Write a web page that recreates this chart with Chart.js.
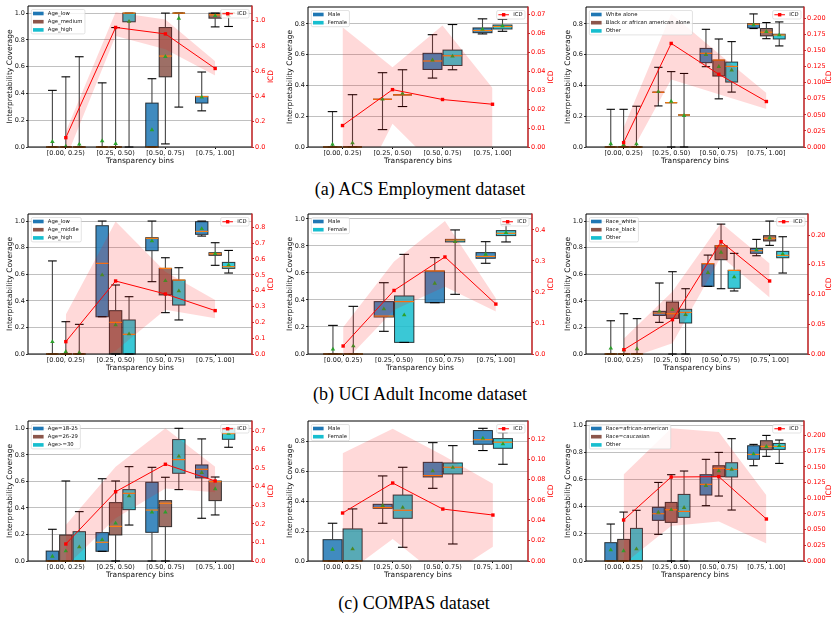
<!DOCTYPE html>
<html>
<head>
<meta charset="utf-8">
<script src="https://cdn.jsdelivr.net/npm/chart.js@4.4.0/dist/chart.umd.min.js"></script>
<style>
  body { margin:0; background:#fff; width:838px; height:617px; position:relative; overflow:hidden; }
  canvas { position:absolute; }
  .cap { position:absolute; font-family:"Liberation Serif","Times New Roman",serif; font-size:18px; color:#000; white-space:nowrap; transform:translate(-50%,-50%); }
</style>
</head>
<body>
<div class="cap" style="left:420px;top:189px">(a) ACS Employment dataset</div>
<div class="cap" style="left:420px;top:394px">(b) UCI Adult Income dataset</div>
<div class="cap" style="left:414px;top:603px">(c) COMPAS dataset</div>
<script>
Chart.defaults.font.family = 'DejaVu Sans';
Chart.defaults.animation = false;
Chart.defaults.color = '#111';

var binLabels = ['[0.00, 0.25)', '[0.25, 0.50)', '[0.50, 0.75)', '[0.75, 1.00]'];
var leftTicks = [0, 0.2, 0.4, 0.6, 0.8, 1.0];
var colors3 = ['#1f77b4', '#8c564b', '#17becf'];
var colors2 = ['#1f77b4', '#17becf'];

// every box: [whisker low, q1, median, q3, whisker high, mean], one row per bin

// ---- ACS Employment / age
var acsAgeGroups = ['Age_low', 'Age_medium', 'Age_high'];
var acsAgeBoxes = [
  [[0,0,0,0,0.423,0.04],[0,0,0,0,0.479,0.045],[0,0,0,0.328,0.51,0.128],[0.27,0.328,0.376,0.378,0.56,0.371]],
  [[0,0,0,0,0.524,0.005],[0,0,0,0,0.892,0.025],[0.023,0.524,0.679,0.892,1.0,0.675],[0.897,0.962,0.987,1.0,1.0,0.98]],
  [[0,0,0,0,0.674,0.02],[0,0.935,1.0,1.0,1.0,0.937],[0.298,1.0,1.0,1.0,1.0,0.96],[0.9,1.0,1.0,1.0,1.0,0.98]]
];
var acsAgeIcd = [0.074, 0.947, 0.896, 0.622];
var acsAgeIcdLow = [-0.094, 0.88, 0.774, 0.567];
var acsAgeIcdHigh = [0.122, 1.067, 1.01, 0.68];
var acsAgeIcdTicks = [0, 0.2, 0.4, 0.6, 0.8, 1.0];

// ---- ACS Employment / sex
var acsSexGroups = ['Male', 'Female'];
var acsSexBoxes = [
  [[0,0,0,0,0.23,0.017],[0.113,0.31,0.31,0.31,0.483,0.31],[0.448,0.504,0.559,0.609,0.73,0.565],[0.735,0.743,0.757,0.774,0.833,0.765]],
  [[0,0,0,0,0.34,0.026],[0.263,0.339,0.339,0.339,0.502,0.348],[0.502,0.53,0.593,0.63,0.796,0.59],[0.752,0.767,0.783,0.793,0.83,0.787]]
];
var acsSexIcd = [0.0113, 0.0302, 0.025, 0.0225];
var acsSexIcdLow = [-0.04, 0.0123, -0.014, -0.002];
var acsSexIcdHigh = [0.063, 0.042, 0.064, 0.031];
var acsSexIcdTicks = [0, 0.01, 0.02, 0.03, 0.04, 0.05, 0.06, 0.07];

// ---- ACS Employment / race
var acsRaceGroups = ['White alone', 'Black or african american alone', 'Other'];
var acsRaceBoxes = [
  [[0,0,0,0,0.245,0.02],[0.267,0.356,0.356,0.356,0.518,0.36],[0.522,0.548,0.609,0.641,0.765,0.6],[0.77,0.774,0.798,0.802,0.865,0.793]],
  [[0,0,0,0,0.245,0.015],[0,0.288,0.288,0.288,0.49,0.296],[0.313,0.461,0.565,0.565,0.702,0.522],[0.704,0.722,0.746,0.77,0.809,0.75]],
  [[0,0,0,0,0.265,0.02],[0,0.208,0.208,0.208,0.478,0.204],[0.357,0.422,0.524,0.552,0.685,0.5],[0.657,0.702,0.728,0.733,0.813,0.728]]
];
var acsRaceIcd = [0.0068, 0.161, 0.113, 0.0707];
var acsRaceIcdLow = [-0.03, 0.105, 0.082, 0.059];
var acsRaceIcdHigh = [0.03, 0.207, 0.145, 0.084];
var acsRaceIcdTicks = [0, 0.025, 0.05, 0.075, 0.1, 0.125, 0.15, 0.175, 0.2];

// ---- Adult income / age
var adultAgeGroups = ['Age_low', 'Age_middle', 'Age_high'];
var adultAgeBoxes = [
  [[0,0,0,0,0.70,0.092],[0.28,0.28,0.682,0.965,1.0,0.594],[0.544,0.777,0.87,0.875,1.0,0.85],[0.887,0.9,0.922,0.995,1.0,0.942]],
  [[0,0,0,0,0.243,0.018],[0,0,0.238,0.326,0.519,0.218],[0.311,0.444,0.644,0.644,0.724,0.551],[0.667,0.742,0.754,0.762,0.837,0.754]],
  [[0,0,0,0,0.223,0.01],[0,0,0.148,0.256,0.431,0.15],[0.256,0.368,0.556,0.556,0.649,0.474],[0.609,0.644,0.657,0.689,0.779,0.669]]
];
var adultAgeIcd = [0.078, 0.461, 0.379, 0.274];
var adultAgeIcdLow = [-0.1, 0.02, 0.28, 0.225];
var adultAgeIcdHigh = [0.25, 0.836, 0.52, 0.341];
var adultAgeIcdTicks = [0, 0.1, 0.2, 0.3, 0.4, 0.5, 0.6, 0.7, 0.8];

// ---- Adult income / sex
var adultSexGroups = ['Male', 'Female'];
var adultSexBoxes = [
  [[0,0,0,0,0.212,0.035],[0.168,0.274,0.281,0.388,0.528,0.333],[0.38,0.38,0.615,0.615,0.714,0.523],[0.672,0.709,0.723,0.751,0.832,0.738]],
  [[0,0,0,0,0.353,0.059],[0.086,0.086,0.388,0.43,0.738,0.289],[0.442,0.83,0.844,0.849,0.919,0.832],[0.83,0.877,0.894,0.914,0.96,0.899]]
];
var adultSexIcd = [0.0258, 0.205, 0.313, 0.161];
var adultSexIcdLow = [-0.03, 0.142, 0.217, 0.137];
var adultSexIcdHigh = [0.086, 0.298, 0.429, 0.18];
var adultSexIcdTicks = [0, 0.1, 0.2, 0.3, 0.4];

// ---- Adult income / race
var adultRaceGroups = ['Race_white', 'Race_black', 'Other'];
var adultRaceBoxes = [
  [[0,0,0,0,0.25,0.043],[0.238,0.29,0.308,0.321,0.534,0.321],[0.509,0.509,0.679,0.679,0.744,0.612],[0.739,0.757,0.777,0.794,0.862,0.782]],
  [[0,0,0,0,0.303,0.03],[0,0.268,0.303,0.391,0.619,0.333],[0.491,0.709,0.812,0.815,0.977,0.764],[0.817,0.85,0.87,0.89,1.0,0.872]],
  [[0,0,0,0,0.266,0.038],[0,0.233,0.313,0.336,0.491,0.296],[0.474,0.494,0.629,0.629,0.757,0.579],[0.609,0.724,0.742,0.772,0.882,0.752]]
];
var adultRaceIcd = [0.0073, 0.0577, 0.1888, 0.1227];
var adultRaceIcdLow = [-0.01, 0.018, 0.164, 0.095];
var adultRaceIcdHigh = [0.026, 0.105, 0.22, 0.152];
var adultRaceIcdTicks = [0, 0.05, 0.1, 0.15, 0.2];

// ---- COMPAS / age
var compasAgeGroups = ['Age=18-25', 'Age=26-29', 'Age>=30'];
var compasAgeBoxes = [
  [[0,0,0,0.075,0.239,0.035],[0.073,0.073,0.141,0.214,0.62,0.16],[0,0.216,0.384,0.593,0.706,0.367],[0.322,0.626,0.691,0.724,0.92,0.666]],
  [[0,0,0,0.196,0.603,0.075],[0,0.196,0.261,0.44,0.603,0.284],[0,0.259,0.435,0.455,0.631,0.367],[0.347,0.455,0.598,0.603,0.633,0.543]],
  [[0,0,0,0.221,0.372,0.105],[0.271,0.387,0.51,0.538,0.711,0.49],[0.538,0.661,0.764,0.915,1.0,0.789],[0.857,0.917,0.96,1.0,1.0,0.962]]
];
var compasAgeIcd = [0.0916, 0.373, 0.521, 0.431];
var compasAgeIcdLow = [-0.03, 0.23, 0.39, 0.37];
var compasAgeIcdHigh = [0.194, 0.508, 0.715, 0.508];
var compasAgeIcdTicks = [0, 0.1, 0.2, 0.3, 0.4, 0.5, 0.6, 0.7];

// ---- COMPAS / sex
var compasSexGroups = ['Male', 'Female'];
var compasSexBoxes = [
  [[0,0,0,0.143,0.253,0.078],[0.253,0.353,0.358,0.38,0.57,0.371],[0.487,0.563,0.572,0.661,0.793,0.603],[0.74,0.782,0.813,0.874,0.889,0.822]],
  [[0,0,0,0.215,0.349,0.08],[0.092,0.286,0.34,0.442,0.628,0.358],[0.114,0.583,0.628,0.657,0.773,0.626],[0.648,0.755,0.796,0.82,0.86,0.784]]
];
var compasSexIcd = [0.0472, 0.0767, 0.0511, 0.0452];
var compasSexIcdLow = [-0.015, 0.0216, -0.018, 0.014];
var compasSexIcdHigh = [0.106, 0.13, 0.104, 0.076];
var compasSexIcdTicks = [0, 0.02, 0.04, 0.06, 0.08, 0.1, 0.12];

// ---- COMPAS / race
var compasRaceGroups = ['Race=african-american', 'Race=caucasian', 'Other'];
var compasRaceBoxes = [
  [[0,0,0,0.135,0.272,0.081],[0.196,0.299,0.348,0.395,0.578,0.358],[0.407,0.485,0.564,0.635,0.748,0.554],[0.701,0.748,0.784,0.848,0.858,0.787]],
  [[0,0,0,0.159,0.36,0.074],[0,0.284,0.377,0.431,0.635,0.377],[0.478,0.62,0.681,0.701,0.799,0.662],[0.77,0.819,0.843,0.885,0.924,0.841]],
  [[0,0,0,0.24,0.373,0.088],[0,0.321,0.365,0.49,0.662,0.392],[0.375,0.618,0.674,0.723,0.9,0.674],[0.718,0.821,0.843,0.865,0.89,0.848]]
];
var compasRaceIcd = [0.0654, 0.134, 0.1346, 0.067];
var compasRaceIcdLow = [-0.005, 0.056, 0.063, 0.028];
var compasRaceIcdHigh = [0.138, 0.212, 0.206, 0.105];
var compasRaceIcdTicks = [0, 0.025, 0.05, 0.075, 0.1, 0.125, 0.15, 0.175, 0.2];

// layout of the 3x3 grid
var panels = [
  {groups: acsAgeGroups, boxes: acsAgeBoxes, icd: acsAgeIcd, low: acsAgeIcdLow, high: acsAgeIcdHigh, ticks: acsAgeIcdTicks, dec: 1,
   yMax: 1.053, icdMax: 1.117, xMin: -0.76, xMax: 3.74, left: 0, top: 0, plotTop: 6, plotRight: 252},
  {groups: acsSexGroups, boxes: acsSexBoxes, icd: acsSexIcd, low: acsSexIcdLow, high: acsSexIcdHigh, ticks: acsSexIcdTicks, dec: 2,
   yMax: 0.91, icdMax: 0.0737, xMin: -0.69, xMax: 3.71, left: 280, top: 0, plotTop: 7, plotRight: 248},
  {groups: acsRaceGroups, boxes: acsRaceBoxes, icd: acsRaceIcd, low: acsRaceIcdLow, high: acsRaceIcdHigh, ticks: acsRaceIcdTicks, dec: 3,
   yMax: 0.91, icdMax: 0.2176, xMin: -0.79, xMax: 3.79, left: 558, top: 0, plotTop: 7, plotRight: 246},
  {groups: adultAgeGroups, boxes: adultAgeBoxes, icd: adultAgeIcd, low: adultAgeIcdLow, high: adultAgeIcdHigh, ticks: adultAgeIcdTicks, dec: 1,
   yMax: 1.053, icdMax: 0.884, xMin: -0.76, xMax: 3.74, left: 0, top: 207, plotTop: 7, plotRight: 252},
  {groups: adultSexGroups, boxes: adultSexBoxes, icd: adultSexIcd, low: adultSexIcdLow, high: adultSexIcdHigh, ticks: adultSexIcdTicks, dec: 1,
   yMax: 1.037, icdMax: 0.4516, xMin: -0.69, xMax: 3.71, left: 280, top: 207, plotTop: 7, plotRight: 252},
  {groups: adultRaceGroups, boxes: adultRaceBoxes, icd: adultRaceIcd, low: adultRaceIcdLow, high: adultRaceIcdHigh, ticks: adultRaceIcdTicks, dec: 2,
   yMax: 1.053, icdMax: 0.2353, xMin: -0.78, xMax: 3.79, left: 558, top: 207, plotTop: 7, plotRight: 250},
  {groups: compasAgeGroups, boxes: compasAgeBoxes, icd: compasAgeIcd, low: compasAgeIcdLow, high: compasAgeIcdHigh, ticks: compasAgeIcdTicks, dec: 1,
   yMax: 1.055, icdMax: 0.754, xMin: -0.76, xMax: 3.74, left: 0, top: 414, plotTop: 7, plotRight: 252},
  {groups: compasSexGroups, boxes: compasSexBoxes, icd: compasSexIcd, low: compasSexIcdLow, high: compasSexIcdHigh, ticks: compasSexIcdTicks, dec: 2,
   yMax: 0.938, icdMax: 0.1377, xMin: -0.69, xMax: 3.7, left: 280, top: 414, plotTop: 7, plotRight: 248},
  {groups: compasRaceGroups, boxes: compasRaceBoxes, icd: compasRaceIcd, low: compasRaceIcdLow, high: compasRaceIcdHigh, ticks: compasRaceIcdTicks, dec: 3,
   yMax: 1.03, icdMax: 0.2234, xMin: -0.79, xMax: 3.79, left: 558, top: 414, plotTop: 7, plotRight: 246}
];

var W = 280, H = 168, PLOT_BOTTOM = 147;

function withAlpha(hex, a) {
  var n = parseInt(hex.slice(1), 16);
  return 'rgba(' + (n >> 16) + ',' + ((n >> 8) & 255) + ',' + (n & 255) + ',' + a + ')';
}

function seg(ctx, x1, y1, x2, y2) {
  ctx.beginPath(); ctx.moveTo(x1, y1); ctx.lineTo(x2, y2); ctx.stroke();
}

function groupStep(n) { return n === 3 ? 0.27 : 0.4; }

function drawBoxes(chart, p) {
  var ctx = chart.ctx, xs = chart.scales.x, ys = chart.scales.y;
  var n = p.groups.length;
  var cols = n === 3 ? colors3 : colors2;
  var unit = xs.getPixelForValue(1) - xs.getPixelForValue(0);
  var half = (n === 3 ? 0.25 : 0.38) * unit / 2;
  var capHalf = half * (n === 3 ? 0.7 : 0.5);
  ctx.save();
  p.boxes.forEach(function(g, gi) {
    g.forEach(function(b, bi) {
      var cx = xs.getPixelForValue(bi + (gi - (n - 1) / 2) * groupStep(n));
      var lo = ys.getPixelForValue(b[0]), q1 = ys.getPixelForValue(b[1]);
      var med = ys.getPixelForValue(b[2]), q3 = ys.getPixelForValue(b[3]);
      var hi = ys.getPixelForValue(b[4]);
      ctx.fillStyle = withAlpha(cols[gi], 0.85);
      ctx.fillRect(cx - half, q3, 2 * half, q1 - q3);
      ctx.strokeStyle = 'rgba(0,0,0,0.75)';
      ctx.lineWidth = 1;
      ctx.strokeRect(cx - half, q3, 2 * half, q1 - q3);
      ctx.strokeStyle = '#444';
      ctx.lineWidth = 1.1;
      seg(ctx, cx, q1, cx, lo);
      seg(ctx, cx, q3, cx, hi);
      ctx.strokeStyle = '#000';
      seg(ctx, cx - capHalf, lo, cx + capHalf, lo);
      seg(ctx, cx - capHalf, hi, cx + capHalf, hi);
      ctx.strokeStyle = '#ff7f0e';
      ctx.lineWidth = 1.2;
      seg(ctx, cx - half, med, cx + half, med);
    });
  });
  ctx.restore();
}

function legendFrame(ctx, x, y, w, h) {
  ctx.beginPath();
  ctx.roundRect(x, y, w, h, 1.5);
  ctx.fillStyle = 'rgba(255,255,255,0.8)';
  ctx.fill();
  ctx.strokeStyle = '#d0d0d0';
  ctx.lineWidth = 0.6;
  ctx.stroke();
}

function drawOverlay(chart, p) {
  var ctx = chart.ctx, a = chart.chartArea;
  var n = p.groups.length;
  var cols = n === 3 ? colors3 : colors2;
  ctx.save();
  // spines
  ctx.strokeStyle = '#000';
  ctx.lineWidth = 1;
  seg(ctx, a.left, a.top, a.right, a.top);
  seg(ctx, a.left, a.top, a.left, a.bottom);
  seg(ctx, a.left, a.bottom, a.right, a.bottom);
  ctx.strokeStyle = '#c0282a';
  ctx.lineWidth = 1.6;
  seg(ctx, a.right, a.top - 0.5, a.right, a.bottom + 0.5);

  // group legend, upper left
  ctx.font = '5.3px "DejaVu Sans"';
  ctx.textBaseline = 'middle';
  ctx.textAlign = 'left';
  var tw = 0;
  p.groups.forEach(function(g) { tw = Math.max(tw, ctx.measureText(g).width); });
  var lx = a.left + 3.3, ly = a.top + 3.5;
  legendFrame(ctx, lx, ly, 1.7 + 10.6 + 4.2 + tw + 2.5, 8 + (n - 1) * 8.2);
  p.groups.forEach(function(g, i) {
    var cy = ly + 4 + i * 8.2;
    ctx.fillStyle = cols[i];
    ctx.fillRect(lx + 1.7, cy - 1.8, 10.6, 3.6);
    ctx.fillStyle = '#111';
    ctx.fillText(g, lx + 16.5, cy);
  });

  // ICD legend, upper right
  var iw = ctx.measureText('ICD').width;
  var w2 = 1.7 + 10.6 + 4.2 + iw + 2.5;
  var rx = a.right - 3 - w2;
  legendFrame(ctx, rx, ly, w2, 8.5);
  var cy2 = ly + 4.25;
  ctx.strokeStyle = 'red';
  ctx.lineWidth = 1;
  seg(ctx, rx + 1.7, cy2, rx + 12.3, cy2);
  ctx.fillStyle = 'red';
  ctx.fillRect(rx + 7 - 1.7, cy2 - 1.7, 3.4, 3.4);
  ctx.fillStyle = '#111';
  ctx.fillText('ICD', rx + 16.5, cy2);

  // right axis title
  ctx.translate(271, (a.top + a.bottom) / 2);
  ctx.rotate(-Math.PI / 2);
  ctx.font = '7.5px "DejaVu Sans"';
  ctx.fillStyle = 'red';
  ctx.textAlign = 'center';
  ctx.fillText('ICD', 0, 0);
  ctx.restore();
}

function makePanel(p) {
  var canvas = document.createElement('canvas');
  canvas.width = W; canvas.height = H;
  canvas.style.left = p.left + 'px';
  canvas.style.top = p.top + 'px';
  canvas.style.width = W + 'px';
  canvas.style.height = H + 'px';
  document.body.appendChild(canvas);

  var n = p.groups.length;
  var datasets = [];
  p.boxes.forEach(function(g, gi) {
    datasets.push({
      type: 'line', showLine: false, yAxisID: 'y', order: 3,
      data: g.map(function(b, bi) { return {x: bi + (gi - (n - 1) / 2) * groupStep(n), y: b[5]}; }),
      pointStyle: 'triangle', pointRadius: 2.6, pointBackgroundColor: '#2ca02c',
      pointBorderColor: '#2ca02c', pointBorderWidth: 0
    });
  });
  datasets.push({
    type: 'line', yAxisID: 'y2', order: 2,
    data: p.high.map(function(v, i) { return {x: i, y: v}; }),
    borderWidth: 0, pointRadius: 0, fill: false
  });
  datasets.push({
    type: 'line', yAxisID: 'y2', order: 2,
    data: p.low.map(function(v, i) { return {x: i, y: v}; }),
    borderWidth: 0, pointRadius: 0, fill: '-1',
    backgroundColor: 'rgba(255,0,0,0.15)'
  });
  datasets.push({
    type: 'line', yAxisID: 'y2', order: 1,
    data: p.icd.map(function(v, i) { return {x: i, y: v}; }),
    borderColor: 'red', borderWidth: 1, pointStyle: 'rect', pointRadius: 2.4,
    pointBackgroundColor: 'red', pointBorderColor: 'red', pointBorderWidth: 0
  });

  new Chart(canvas, {
    type: 'line',
    data: {datasets: datasets},
    options: {
      responsive: false,
      maintainAspectRatio: false,
      devicePixelRatio: 1,
      events: [],
      layout: {padding: {top: p.plotTop, left: 0, right: 0, bottom: 0}, autoPadding: false},
      plugins: {legend: {display: false}, tooltip: {enabled: false}},
      scales: {
        x: {
          type: 'linear', position: 'bottom', min: p.xMin, max: p.xMax,
          afterBuildTicks: function(s) { s.ticks = binLabels.map(function(_, i) { return {value: i}; }); },
          afterFit: function(s) { s.height = H - PLOT_BOTTOM; },
          ticks: {autoSkip: false, maxRotation: 0, minRotation: 0, padding: 0, font: {size: 6.5},
                  callback: function(v, i) { return binLabels[i]; }},
          grid: {drawOnChartArea: false, drawTicks: true, tickLength: 2, tickColor: '#000'},
          border: {display: false},
          title: {display: true, text: 'Transparency bins', font: {size: 7.5}, color: '#111',
                  padding: {top: 0, bottom: 2.5}}
        },
        y: {
          type: 'linear', position: 'left', min: 0, max: p.yMax,
          afterBuildTicks: function(s) {
            s.ticks = leftTicks.filter(function(v) { return v <= s.max; }).map(function(v) { return {value: v}; });
          },
          afterFit: function(s) { s.width = 28; },
          ticks: {padding: 1, font: {size: 6.5}, callback: function(v) { return v.toFixed(1); }},
          grid: {drawOnChartArea: true, color: '#b0b0b0', lineWidth: 0.8, tickLength: 2, tickColor: '#000'},
          border: {display: false},
          title: {display: true, text: 'Interpretability Coverage', font: {size: 7.5}, color: '#111',
                  padding: {top: 6, bottom: 0}}
        },
        y2: {
          type: 'linear', position: 'right', min: 0, max: p.icdMax,
          afterBuildTicks: function(s) { s.ticks = p.ticks.map(function(v) { return {value: v}; }); },
          afterFit: function(s) { s.width = W - p.plotRight; },
          ticks: {padding: 1, color: 'red', font: {size: 6.5}, callback: function(v) { return v.toFixed(p.dec); }},
          grid: {drawOnChartArea: false, tickLength: 2, tickColor: '#c0282a'},
          border: {display: false}
        }
      }
    },
    plugins: [{
      id: 'boxplotLayer',
      beforeDatasetsDraw: function(chart) { drawBoxes(chart, p); },
      afterDatasetsDraw: function(chart) { drawOverlay(chart, p); }
    }]
  });
}

panels.forEach(makePanel);
</script>
</body>
</html>
